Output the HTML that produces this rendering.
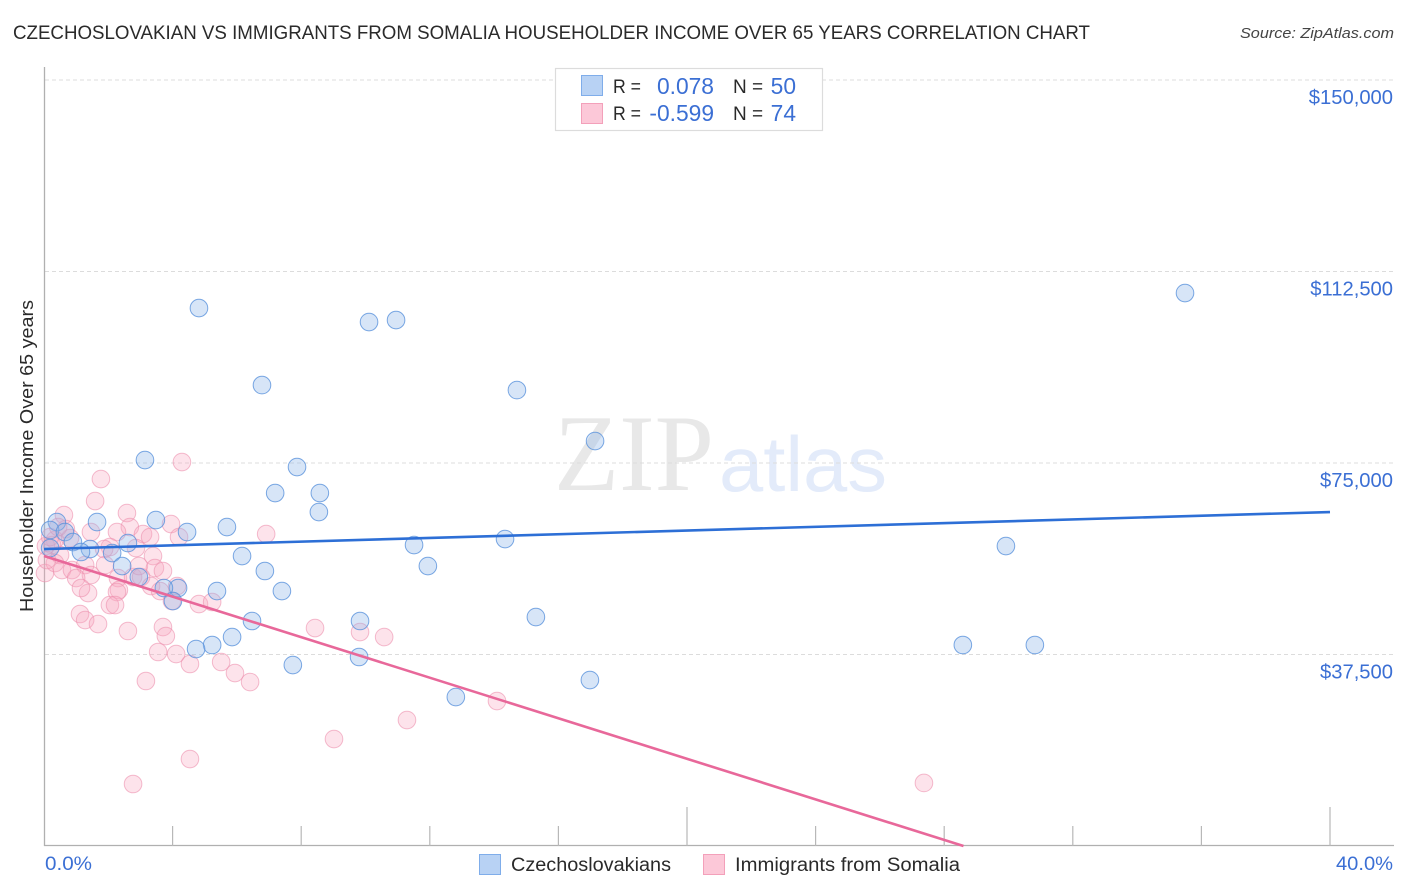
<!DOCTYPE html>
<html lang="en">
<head>
<meta charset="utf-8">
<title>Czechoslovakian vs Immigrants from Somalia Householder Income Over 65 Years Correlation Chart</title>
<style>
html,body{margin:0;padding:0;background:#fff;width:1406px;height:892px;overflow:hidden}
svg{display:block}
text{font-family:"Liberation Sans",sans-serif}
</style>
</head>
<body>
<svg id="chart" xmlns="http://www.w3.org/2000/svg" width="1406" height="892" viewBox="0 0 1406 892">
  <text x="13" y="39" font-size="19.5" fill="#2a2a2a" textLength="1077" lengthAdjust="spacingAndGlyphs">CZECHOSLOVAKIAN VS IMMIGRANTS FROM SOMALIA HOUSEHOLDER INCOME OVER 65 YEARS CORRELATION CHART</text>
  <text x="1240" y="38" font-size="15" font-style="italic" fill="#444" textLength="154" lengthAdjust="spacingAndGlyphs">Source: ZipAtlas.com</text>

  <g>
    <text x="554" y="490" font-size="109" fill="#e8e8e8" style="font-family:'Liberation Serif',serif" textLength="160" lengthAdjust="spacingAndGlyphs">ZIP</text>
    <text x="719" y="491" font-size="78" fill="#e3ebfa" textLength="168" lengthAdjust="spacingAndGlyphs">atlas</text>
  </g>

  <g id="grid"></g>
  <g id="axes"></g>
  <g id="ylabels"></g>
  <g id="points"></g>
  <g id="trends"></g>

  <text transform="translate(33,456) rotate(-90)" font-size="18.5" fill="#2a2a2a" text-anchor="middle" textLength="312" lengthAdjust="spacingAndGlyphs">Householder Income Over 65 years</text>
  <text x="45" y="870" font-size="19.5" fill="#3b6fd4" textLength="47" lengthAdjust="spacingAndGlyphs">0.0%</text>
  <text x="1336" y="870" font-size="19.5" fill="#3b6fd4" textLength="57" lengthAdjust="spacingAndGlyphs">40.0%</text>

  <g>
    <rect x="555.5" y="68.5" width="267" height="62" fill="#fff" stroke="#dcdcdc" stroke-width="1.2"/>
    <rect x="581.5" y="75.5" width="21" height="20" fill="#b8d2f4" stroke="#7fadea"/>
    <rect x="581.5" y="103.5" width="21" height="20" fill="#fcc8d8" stroke="#f3a0ba"/>
    <text x="613" y="93" font-size="19" fill="#2a2a2a" textLength="28" lengthAdjust="spacingAndGlyphs">R =</text>
    <text x="714" y="94" font-size="22.8" fill="#3b6fd4" text-anchor="end">0.078</text>
    <text x="733" y="93" font-size="19" fill="#2a2a2a">N =</text>
    <text x="796" y="94" font-size="22.8" fill="#3b6fd4" text-anchor="end">50</text>
    <text x="613" y="120" font-size="19" fill="#2a2a2a" textLength="28" lengthAdjust="spacingAndGlyphs">R =</text>
    <text x="714" y="121" font-size="22.8" fill="#3b6fd4" text-anchor="end">-0.599</text>
    <text x="733" y="120" font-size="19" fill="#2a2a2a">N =</text>
    <text x="796" y="121" font-size="22.8" fill="#3b6fd4" text-anchor="end">74</text>
  </g>

  <g>
    <rect x="479.5" y="854.5" width="21" height="20" fill="#b8d2f4" stroke="#7fadea"/>
    <text x="511" y="871" font-size="19" fill="#2a2a2a" textLength="160" lengthAdjust="spacingAndGlyphs">Czechoslovakians</text>
    <rect x="703.5" y="854.5" width="21" height="20" fill="#fcc8d8" stroke="#f3a0ba"/>
    <text x="735" y="871" font-size="19" fill="#2a2a2a" textLength="225" lengthAdjust="spacingAndGlyphs">Immigrants from Somalia</text>
  </g>
</svg>
<script>
const yTickValues = [150000, 112500, 75000, 37500];
const yTickLabels = ["$150,000", "$112,500", "$75,000", "$37,500"];
const xMinorTicks = [4, 8, 12, 16, 24, 28, 32, 36];
const xMajorTicks = [20, 40];

const czechX = [4.82,10.11,10.95,35.49,6.78,14.71,17.14,3.14,7.87,7.19,8.58,8.55,3.48,5.69,4.45,1.65,0.40,0.19,0.65,0.90,2.61,14.34,11.51,29.92,6.16,1.43,1.15,2.12,2.43,6.87,11.94,2.95,7.40,5.38,4.17,3.73,4.01,15.30,6.47,9.83,5.85,5.23,4.73,28.58,30.82,7.74,9.80,16.98,12.81,0.19];
const czechY = [105340,102600,102990,108280,90260,89280,79300,75580,74210,69120,69120,65400,63830,62460,61480,63440,63440,61870,61480,59520,59330,60110,58940,58740,56780,58150,57570,57370,54820,53850,54820,52670,49930,49930,50520,50520,47970,44840,44060,44060,40920,39360,38570,39360,39360,35440,37010,32500,29170,58350];

const somaliaX = [4.29,1.77,1.59,0.62,2.58,0.68,3.95,2.67,1.46,2.27,3.08,3.30,4.20,6.91,0.34,0.81,0.25,0.06,0.50,2.05,1.87,2.86,3.39,0.03,0.34,0.56,0.87,1.28,1.46,1.90,1.00,2.30,2.77,3.02,2.95,3.45,3.70,2.33,2.27,3.33,3.61,4.14,1.37,1.15,1.12,1.28,1.68,2.05,2.21,4.82,5.23,2.61,3.70,3.79,3.55,4.11,4.54,5.51,5.94,6.41,3.17,8.43,9.83,10.58,14.09,11.29,9.02,4.54,2.77,27.37,0.19,0.09,0.44,3.98];
const somaliaY = [75190,71860,67550,64810,65200,62070,63050,62460,61480,61480,61090,60500,60500,61090,59910,60310,58940,58740,56980,58540,58150,58350,56780,53450,55410,54040,54040,55020,53060,55020,52470,52470,52670,52670,54820,54430,53850,50120,49730,50910,49930,50910,49540,50520,45430,44250,43470,47190,47190,47380,47780,42100,42880,41120,37990,37590,35640,36030,33870,32110,32310,42680,41900,40920,28390,24670,20950,17030,12140,12340,60500,56000,62460,47970];

const czechTrendX = [0, 40];
const czechTrendY = [58150, 65400];
const somaliaTrendX = [0, 28.6];
const somaliaTrendY = [56780, 0];

const NS = "http://www.w3.org/2000/svg";
const xPx = v => 44 + v * 32.15;
const yPx = v => 846 - v * 191.5 / 37500;

function make(parent, tag, attrs) {
  const el = document.createElementNS(NS, tag);
  for (const k in attrs) el.setAttribute(k, attrs[k]);
  parent.appendChild(el);
  return el;
}

const grid = document.getElementById("grid");
const axes = document.getElementById("axes");
const ylabels = document.getElementById("ylabels");
const points = document.getElementById("points");
const trends = document.getElementById("trends");

yTickValues.forEach((v, i) => {
  const line = make(grid, "line", {x1: 45, x2: 1394, y1: yPx(v), y2: yPx(v), stroke: "#dcdcdc", "stroke-width": 1, "stroke-dasharray": "4 3"});
  
  
  const label = make(ylabels, "text", {x: 1393, y: yPx(v) + 24, "font-size": 20.2, fill: "#3b6fd4", "text-anchor": "end"});
  label.textContent = yTickLabels[i];
  
  
});

const yAxis = make(axes, "line", {x1: 44.5, x2: 44.5, y1: 67, y2: 846, stroke: "#b0b0b0", "stroke-width": 1.3});


const xAxis = make(axes, "line", {x1: 44, x2: 1394, y1: 845.5, y2: 845.5, stroke: "#b0b0b0", "stroke-width": 1.3});



xMinorTicks.forEach(v => {
  const t = make(axes, "line", {x1: xPx(v), x2: xPx(v), y1: 826, y2: 846, stroke: "#b8b8b8", "stroke-width": 1.2});
  
  
});
xMajorTicks.forEach(v => {
  const t = make(axes, "line", {x1: xPx(v), x2: xPx(v), y1: 807, y2: 846, stroke: "#b8b8b8", "stroke-width": 1.2});
  
  
});

somaliaX.forEach((x, i) => {
  const c = make(points, "circle", {cx: xPx(x), cy: yPx(somaliaY[i]), r: 8.8, fill: "#f8a9c0", "fill-opacity": 0.32, stroke: "#ec8fad", "stroke-opacity": 0.6, "stroke-width": 1});
  
  
});
czechX.forEach((x, i) => {
  const c = make(points, "circle", {cx: xPx(x), cy: yPx(czechY[i]), r: 8.8, fill: "#90b8ea", "fill-opacity": 0.36, stroke: "#5a92dc", "stroke-opacity": 0.8, "stroke-width": 1});
  
  
});

const somaliaTrend = make(trends, "line", {x1: xPx(somaliaTrendX[0]), y1: yPx(somaliaTrendY[0]), x2: xPx(somaliaTrendX[1]), y2: yPx(somaliaTrendY[1]), stroke: "#e8689a", "stroke-width": 2.6});


const czechTrend = make(trends, "line", {x1: xPx(czechTrendX[0]), y1: yPx(czechTrendY[0]), x2: xPx(czechTrendX[1]), y2: yPx(czechTrendY[1]), stroke: "#2d6fd6", "stroke-width": 2.6});


</script>
</body>
</html>
